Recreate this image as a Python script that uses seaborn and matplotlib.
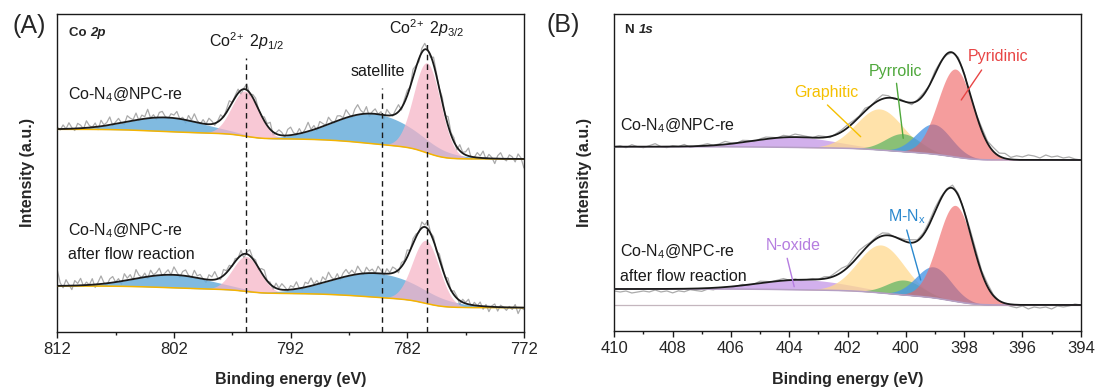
import numpy as np
import pandas as pd
import matplotlib
matplotlib.use("Agg")
import matplotlib.pyplot as plt
import seaborn as sns

sns.set_theme(style="ticks")
plt.rcParams["font.family"] = ["Liberation Sans", "DejaVu Sans"]
plt.rcParams["mathtext.fontset"] = "custom"
plt.rcParams["mathtext.rm"] = "Liberation Sans"
plt.rcParams["mathtext.it"] = "Liberation Sans:italic"
plt.rcParams["mathtext.bf"] = "Liberation Sans:bold"

# ---------------- Co 2p fit components ----------------
co_range = (812, 772)
co_ticks = [812, 802, 792, 782, 772]
co_names = ["sat 2p1/2", "Co2+ 2p1/2", "sat 2p3/2", "Co2+ 2p3/2"]
co_kinds = ["sat", "main", "sat", "main"]
co_top_center = [802.6, 795.9, 784.8, 780.3]
co_top_height = [14, 45, 30, 90]
co_top_sigma = [3.3, 1.15, 3.5, 1.15]
co_top_bg = (172.5, 202.2)        # background at low / high binding energy
co_bot_center = [802.0, 795.8, 784.6, 780.4]
co_bot_height = [13, 35, 24, 63]
co_bot_sigma = [3.3, 1.15, 3.8, 1.15]
co_bot_bg = (23.8, 45.5)
co_markers = [795.8, 784.2, 780.3]
co_marker_top = [273.5, 243.8, 288.0]

# raw counts minus fit envelope, 812 -> 772 eV
co_top_resid = [
    2, -1, 4, 0, 6, 1, -2, 5, 3, -1, 7, 2, 0, 4, -3, 6, 1, 3, 8, -1,
    2, 5, 0, -2, 6, 3, 1, 7, -1, 4, 2, 9, 0, 3, -2, 5, 6, 1, -1, 4,
    3, 7, 0, 2, -3, 5, 1, 8, 2, -1, 4, 0, 6, 3, -2, 1, 5, -1, 3, 7,
    0, 2, 4, -4, 1, 6, -2, 3, 5, 0, -1, 4, 2, 7, -3, 1, 5, 3, -2, 6,
    8, 2, 0, 5, -1, 3, 9, 1, 4, -2, 6, 3, 0, 7, 2, -1, 5, 4, 1, 8,
    3, -2, 6, 10, 4, 1, 7, -3, 2, 5, 0, 3, -4, 6, 2, -1, 4, 7, -2, 3,
    5, 0, 8, 2, -3, 4, 6, 1, -2, 7, 3, 0, 5, -1, 9, 2, 4, -3, 6, 1,
    3, 8, -2, 0, 5, 2, 7, -1, 4, 1, -5, 3, 6, 0, -2, 4, 2, -3, 5, 1, -9]
co_bot_resid = [
    16, 3, -2, 6, 1, -4, 5, 2, 7, -1, 3, 0, 6, -3, 2, 8, 1, -2, 4, 6,
    0, 3, -3, 7, 2, 5, -1, 9, 3, 0, 4, -2, 6, 1, 3, 7, -1, 2, 5, 0,
    8, 3, -2, 4, 6, 1, -1, 7, 2, 4, 0, -3, 5, 3, 8, 1, -2, 6, 2, 4,
    -1, 3, 0, 5, -4, 2, 6, 1, 3, -2, 4, 7, 0, 2, -3, 5, 1, 6, 3, -1,
    4, 2, 7, 0, -2, 5, 3, 8, 1, 4, -1, 6, 2, 9, 3, 0, 5, -2, 4, 7,
    2, 5, 1, 8, 3, -1, 6, 2, 4, 0, 7, 3, -2, 5, 1, 6, 3, -3, 4, 2,
    7, 0, 5, 3, -1, 6, 2, 8, 1, 4, -2, 5, 3, 0, 6, -1, 4, 2, -4, 3,
    1, 5, -2, 3, 0, 4, -3, 2, -5, 1, 3, -4, 2, 0, -3, 1, -2, 3, -6, 0, -2]

# ---------------- N 1s fit components ----------------
n_range = (410, 394)
n_ticks = list(range(410, 393, -2))
n_names = ["N-oxide", "Graphitic", "Pyrrolic", "M-Nx", "Pyridinic"]
n_top_center = [403.8, 400.9, 400.1, 399.05, 398.3]
n_top_height = [10.3, 41, 18, 30, 88]
n_top_sigma = [1.4, 0.8, 0.6, 0.6, 0.6]
n_top_bg = (171.0, 184.3)
n_bot_center = [403.5, 400.85, 400.05, 399.05, 398.3]
n_bot_height = [10, 48, 15, 31, 96]
n_bot_sigma = [1.5, 0.8, 0.6, 0.6, 0.6]
n_bot_bg = (26.0, 42.0)

# raw counts minus fit envelope, 410 -> 394 eV
n_top_resid = [
    0, 1, -1, 2, 0, -1, 1, 3, 0, -1, 1, 0, 2, -1, 0, 1, 2, 0, 1, 3,
    1, 0, 2, 1, -1, 1, 2, 1, 0, 2, 1, 3, 2, 1, 0, 2, 1, -1, 1, 2,
    3, 2, 1, 3, 0, 2, 4, 2, -1, 1, 0, -2, 1, 2, 0, 3, 1, -1, 0, 2,
    1, -2, 0, 3, 2, 4, 3, 5, 2, 4, 3, 5, 4, 2, 5, 3, 4, 2, 3, 1, 0]
n_bot_resid = [
    -2, -3, -2, -4, -3, -2, -3, -1, -3, -2, -4, -2, -3, -1, -2, -3, -1, -2, 0, -1,
    -2, 0, 1, -1, 0, 2, 1, 0, 1, 2, 0, 1, -1, 0, 1, 0, 2, 1, 3, 4,
    2, 4, 5, 3, 1, 2, 3, 2, 0, 1, 2, 3, 1, 2, 3, 4, 2, 1, 3, 2,
    1, 3, 4, 2, 3, 1, 0, -1, -2, -3, -1, -4, -2, -3, -2, -4, -1, -2, -1, 1, 0]

CO_COLORS = {"sat": "#6AAEDB", "main": "#F6B3C6"}
N_COLORS = ["#C79DE8", "#FFD98E", "#6DB86A", "#4A98E6", "#EF6262"]
N_ALPHA = [0.8, 0.75, 0.8, 0.8, 0.62]
N_LABEL_COLORS = ["#B57DE0", "#F5C000", "#4FA83C", "#2A88CE", "#E84545"]


def gauss(x, c, h, s):
    return h * np.exp(-0.5 * ((x - c) / s) ** 2)


def build_fit(erange, centers, heights, sigmas, bg):
    lo, hi = min(erange), max(erange)
    x = np.linspace(lo, hi, 1201)
    comps = [gauss(x, c, h, s) for c, h, s in zip(centers, heights, sigmas)]
    total = np.sum(comps, axis=0)
    cum = np.cumsum(total)
    cum = (cum - cum[0]) / (cum[-1] - cum[0])
    base = bg[0] + (bg[1] - bg[0]) * cum          # Shirley-type step
    return x, comps, base, base + total


def raw_curve(erange, resid, x, env):
    e = np.linspace(erange[0], erange[1], len(resid))
    return e, np.interp(e, x, env) + np.asarray(resid, float)


def draw_spectrum(ax, erange, centers, heights, sigmas, bg, resid,
                  colors, alphas, base_color):
    x, comps, base, env = build_fit(erange, centers, heights, sigmas, bg)
    e_raw, y_raw = raw_curve(erange, resid, x, env)
    sns.lineplot(x=e_raw, y=y_raw, ax=ax, color="#ABABAB", lw=0.9,
                 sort=False, estimator=None, zorder=1)
    for comp, col, a in zip(comps, colors, alphas):
        ax.fill_between(x, base, base + comp, color=col, alpha=a, lw=0, zorder=2)
    sns.lineplot(x=x, y=base, ax=ax, color=base_color, lw=1.1,
                 sort=False, estimator=None, zorder=3)
    sns.lineplot(x=x, y=env, ax=ax, color="#1a1a1a", lw=1.3,
                 sort=False, estimator=None, zorder=4)


fig = plt.figure(figsize=(10.97, 3.90), dpi=100)
axA = fig.add_axes([0.0522, 0.150, 0.4254, 0.8141])
axB = fig.add_axes([0.5600, 0.1513, 0.4252, 0.8128])

co_cols = [CO_COLORS[k] for k in co_kinds]
co_alph = [0.85 if k == "sat" else 0.72 for k in co_kinds]
draw_spectrum(axA, co_range, co_top_center, co_top_height, co_top_sigma,
              co_top_bg, co_top_resid, co_cols, co_alph, "#F5B400")
draw_spectrum(axA, co_range, co_bot_center, co_bot_height, co_bot_sigma,
              co_bot_bg, co_bot_resid, co_cols, co_alph, "#F5B400")

for e, top in zip(co_markers, co_marker_top):
    axA.plot([e, e], [0, top], color="#1a1a1a", lw=1.0,
             ls=(0, (4, 3)), zorder=5)

axB.axhline(n_bot_bg[0], color="#C4B6BE", lw=0.9, zorder=0)
draw_spectrum(axB, n_range, n_top_center, n_top_height, n_top_sigma,
              n_top_bg, n_top_resid, N_COLORS, N_ALPHA, "#B59FC4")
draw_spectrum(axB, n_range, n_bot_center, n_bot_height, n_bot_sigma,
              n_bot_bg, n_bot_resid, N_COLORS, N_ALPHA, "#B59FC4")

for ax, rng, ticks, minor_step, ytop in [
        (axA, co_range, co_ticks, 5, 317.5),
        (axB, n_range, n_ticks, 1, 317.0)]:
    ax.set_xlim(*rng)
    ax.set_ylim(0, ytop)
    ax.set_xticks(ticks)
    ax.set_xticklabels([str(t) for t in ticks])
    ax.set_xticks(np.arange(min(rng), max(rng) + 0.01, minor_step), minor=True)
    ax.set_yticks([])
    ax.tick_params(axis="x", which="major", direction="out", length=4.5,
                   width=1.0, labelsize=12, pad=3, color="#1a1a1a")
    ax.tick_params(axis="x", which="minor", direction="out", length=2.5,
                   width=1.0, color="#1a1a1a")
    for sp in ax.spines.values():
        sp.set_visible(True)
        sp.set_color("#1a1a1a")
        sp.set_linewidth(1.0)
    ax.set_xlabel("Binding energy (eV)", fontsize=11.5, fontweight="bold")
    ax.set_ylabel("Intensity (a.u.)", fontsize=11.5, fontweight="bold")
    ax.xaxis.set_label_coords(0.5, -0.128)
    ax.yaxis.set_label_coords(-0.047, 0.5)

TXT = dict(fontsize=11.5, color="#1a1a1a")
# Co 2p annotations
t = axA.text(811.0, 295.5, "Co ", fontsize=9.5, fontweight="bold", va="baseline")
axA.annotate("2p", xy=(1, 0), xycoords=t, fontsize=9.5, fontweight="bold",
             fontstyle="italic", va="bottom")
axA.text(795.8, 284.8, r"Co$^{2\!+}$ $\mathit{2p_{1/2}}$", ha="center",
         va="baseline", **TXT)
axA.text(780.3, 297.2, r"Co$^{2\!+}$ $\mathit{2p_{3/2}}$", ha="center",
         va="baseline", **TXT)
axA.text(784.5, 255.5, "satellite", ha="center", va="baseline", **TXT)
axA.text(811.05, 232.5, r"Co-N$_4$@NPC-re", va="baseline", **TXT)
axA.text(811.05, 96.5, r"Co-N$_4$@NPC-re", va="baseline", **TXT)
axA.text(811.05, 73.0, "after flow reaction", va="baseline", **TXT)

# N 1s annotations
t = axB.text(409.63, 297.7, "N ", fontsize=9.5, fontweight="bold", va="baseline")
axB.annotate("1s", xy=(1, 0), xycoords=t, fontsize=9.5, fontweight="bold",
             fontstyle="italic", va="bottom")
axB.text(409.81, 201.0, r"Co-N$_4$@NPC-re", va="baseline", **TXT)
axB.text(409.81, 74.3, r"Co-N$_4$@NPC-re", va="baseline", **TXT)
axB.text(409.81, 50.3, "after flow reaction", va="baseline", **TXT)

n_label_pos = {
    "N-oxide": (403.85, 81.0, [(404.07, 72.7), (403.83, 44.3)]),
    "Graphitic": (402.72, 234.3, [(402.69, 226.0), (401.55, 194.3)]),
    "Pyrrolic": (400.36, 255.0, [(400.32, 247.7), (400.09, 192.7)]),
    "M-Nx": (399.97, 109.3, [(399.97, 101.0), (399.49, 51.0)]),
    "Pyridinic": (396.82, 270.0, [(397.40, 261.0), (398.10, 231.0)]),
}
for name, col in zip(n_names, N_LABEL_COLORS):
    lx, ly, seg = n_label_pos[name]
    label = r"M-N$_\mathrm{x}$" if name == "M-Nx" else name
    axB.text(lx, ly, label, ha="center", va="baseline", fontsize=11.5, color=col)
    axB.plot([seg[0][0], seg[1][0]], [seg[0][1], seg[1][1]], color=col,
             lw=1.0, zorder=6)

fig.text(12.0 / 1097, 1 - 26.0 / 390, "(A)", fontsize=18, va="center", ha="left")
fig.text(546.0 / 1097, 1 - 25.0 / 390, "(B)", fontsize=18, va="center", ha="left")

fig.savefig("out.png", dpi=100)
